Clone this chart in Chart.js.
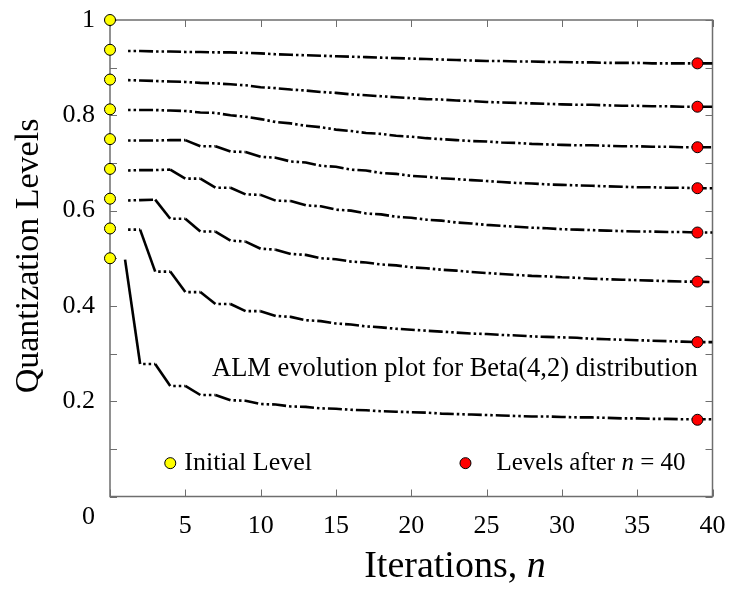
<!DOCTYPE html>
<html>
<head>
<meta charset="utf-8">
<title>ALM evolution plot</title>
<script src="https://cdn.jsdelivr.net/npm/chart.js@4.4.0/dist/chart.umd.min.js"></script>
<style>
  body { margin: 0; background: #fff; }
  #wrap { width: 730px; height: 590px; }
</style>
</head>
<body>
<div id="wrap"><canvas id="almChart" width="730" height="590"></canvas></div>
<script>
// Iterations on the x axis
const iterations = [1, 2, 3, 4, 5, 6, 7, 8, 9, 10, 11, 12, 13, 14, 15, 16, 17, 18, 19, 20,
  21, 22, 23, 24, 25, 26, 27, 28, 29, 30, 31, 32, 33, 34, 35, 36, 37, 38, 39, 40];

// Quantization level trajectories (top to bottom)
const level1 = [0.935, 0.935, 0.934, 0.934, 0.933, 0.933, 0.932, 0.932, 0.931, 0.930,
  0.928, 0.927, 0.926, 0.925, 0.924, 0.923, 0.922, 0.921, 0.920, 0.919,
  0.918, 0.917, 0.916, 0.915, 0.914, 0.914, 0.913, 0.913, 0.912, 0.912,
  0.911, 0.911, 0.910, 0.910, 0.910, 0.909, 0.909, 0.909, 0.909, 0.909];
const level2 = [0.874, 0.873, 0.872, 0.871, 0.870, 0.868, 0.867, 0.865, 0.863, 0.859,
  0.857, 0.854, 0.852, 0.849, 0.847, 0.844, 0.842, 0.840, 0.838, 0.836,
  0.834, 0.833, 0.831, 0.830, 0.828, 0.827, 0.826, 0.825, 0.824, 0.823,
  0.822, 0.822, 0.821, 0.820, 0.820, 0.819, 0.819, 0.818, 0.818, 0.818];
const level3 = [0.811, 0.811, 0.811, 0.810, 0.809, 0.806, 0.805, 0.800, 0.797, 0.792,
  0.786, 0.783, 0.778, 0.775, 0.770, 0.767, 0.763, 0.761, 0.757, 0.755,
  0.752, 0.750, 0.748, 0.746, 0.745, 0.743, 0.742, 0.740, 0.739, 0.738,
  0.737, 0.737, 0.736, 0.735, 0.735, 0.734, 0.734, 0.733, 0.733, 0.733];
const level4 = [0.747, 0.747, 0.747, 0.748, 0.748, 0.735, 0.735, 0.724, 0.723, 0.713,
  0.711, 0.703, 0.701, 0.694, 0.692, 0.686, 0.684, 0.679, 0.677, 0.673,
  0.671, 0.668, 0.666, 0.664, 0.662, 0.660, 0.658, 0.657, 0.655, 0.654,
  0.653, 0.652, 0.651, 0.650, 0.649, 0.649, 0.648, 0.648, 0.647, 0.647];
const level5 = [0.684, 0.685, 0.685, 0.686, 0.667, 0.667, 0.648, 0.648, 0.634, 0.633,
  0.621, 0.620, 0.611, 0.609, 0.602, 0.600, 0.594, 0.592, 0.587, 0.585,
  0.581, 0.579, 0.575, 0.573, 0.570, 0.568, 0.566, 0.564, 0.563, 0.561,
  0.560, 0.559, 0.558, 0.557, 0.556, 0.556, 0.555, 0.555, 0.554, 0.554];
const level6 = [0.621, 0.622, 0.623, 0.583, 0.583, 0.556, 0.556, 0.537, 0.535, 0.520,
  0.518, 0.509, 0.507, 0.500, 0.498, 0.493, 0.491, 0.487, 0.485, 0.481,
  0.479, 0.476, 0.474, 0.471, 0.469, 0.467, 0.465, 0.463, 0.462, 0.460,
  0.459, 0.457, 0.456, 0.455, 0.454, 0.453, 0.452, 0.451, 0.451, 0.450];
const level7 = [0.560, 0.560, 0.472, 0.472, 0.429, 0.429, 0.404, 0.404, 0.389, 0.389,
  0.379, 0.377, 0.370, 0.368, 0.363, 0.361, 0.357, 0.355, 0.352, 0.350,
  0.348, 0.346, 0.344, 0.342, 0.341, 0.339, 0.338, 0.336, 0.335, 0.334,
  0.333, 0.331, 0.330, 0.329, 0.328, 0.327, 0.326, 0.325, 0.324, 0.324];
const level8 = [0.497, 0.278, 0.278, 0.232, 0.232, 0.213, 0.213, 0.202, 0.201, 0.194,
  0.193, 0.189, 0.188, 0.185, 0.184, 0.182, 0.181, 0.179, 0.178, 0.177,
  0.176, 0.174, 0.173, 0.172, 0.171, 0.170, 0.169, 0.168, 0.168, 0.167,
  0.166, 0.166, 0.165, 0.164, 0.164, 0.163, 0.163, 0.162, 0.162, 0.162];

// Marker series
const initialIteration = 0;
const initialLevels = [1, 0.9375, 0.875, 0.8125, 0.75, 0.6875, 0.625, 0.5625, 0.5];
const finalIteration = 39;
const finalLevels = [0.909, 0.818, 0.733, 0.647, 0.554, 0.451, 0.324, 0.161];

const SERIF = '"Liberation Serif", "Times New Roman", serif';
const AXIS_GRAY = "#6e6e6e";
const YELLOW = "#ffff00";
const RED = "#ff0000";
const DASH_DOT_DOT = [14, 3, 2.5, 3, 2.5, 3];

const levelSeries = [level1, level2, level3, level4, level5, level6, level7, level8];

const isJump = c => Math.abs(c.p1.parsed.y - c.p0.parsed.y) > 0.009;

const lineDatasets = levelSeries.map((vals, i) => ({
  label: "Level " + (i + 1),
  data: iterations.map((n, k) => ({ x: n, y: vals[k] })),
  borderColor: "#000",
  borderWidth: 2.6,
  borderDash: DASH_DOT_DOT,
  // the big jumps look solid in the original, flat runs start on the dots
  segment: {
    borderDash: c => (isJump(c) ? [] : DASH_DOT_DOT),
    borderDashOffset: c => (isJump(c) ? 0 : 14)
  },
  pointRadius: 0,
  tension: 0,
  fill: false,
  order: 2
}));

const initialDataset = {
  label: "Initial Level",
  data: initialLevels.map(v => ({ x: initialIteration, y: v })),
  showLine: false,
  pointRadius: 5.5,
  pointBackgroundColor: YELLOW,
  pointBorderColor: "#000",
  pointBorderWidth: 1,
  clip: false,
  order: 0
};

const finalDataset = {
  label: "Levels after n = 40",
  data: finalLevels.map(v => ({ x: finalIteration, y: v })),
  showLine: false,
  pointRadius: 5.5,
  pointBackgroundColor: RED,
  pointBorderColor: "#000",
  pointBorderWidth: 1,
  clip: false,
  order: 0
};


// Box, inward ticks and all the extra texts
const framePlugin = {
  id: "frame",
  beforeDatasetsDraw(chart) {
    const { ctx, chartArea: a, scales: { x, y } } = chart;
    ctx.save();
    ctx.strokeStyle = AXIS_GRAY;
    ctx.lineWidth = 1.5;
    ctx.strokeRect(a.left, a.top, a.right - a.left, a.bottom - a.top);

    ctx.lineWidth = 1;
    ctx.beginPath();
    x.ticks.forEach(t => {
      const px = Math.round(x.getPixelForValue(t.value)) + 0.5;
      ctx.moveTo(px, a.bottom); ctx.lineTo(px, a.bottom - 7);
      ctx.moveTo(px, a.top); ctx.lineTo(px, a.top + 7);
    });
    y.ticks.forEach(t => {
      const py = Math.round(y.getPixelForValue(t.value)) + 0.5;
      ctx.moveTo(a.left, py); ctx.lineTo(a.left + 7, py);
      ctx.moveTo(a.right, py); ctx.lineTo(a.right - 7, py);
    });
    ctx.stroke();
    ctx.restore();
  },
  afterDraw(chart) {
    const { ctx, chartArea: a, scales: { x, y } } = chart;
    ctx.save();
    ctx.fillStyle = "#000";
    ctx.textBaseline = "middle";

    // lone "0" at the lower left corner
    ctx.font = "26px " + SERIF;
    ctx.textAlign = "right";
    ctx.fillText("0", a.left - 15, a.bottom + 21);

    // x axis title
    ctx.font = "38px " + SERIF;
    const part1 = "Iterations, ";
    const w1 = ctx.measureText(part1).width;
    ctx.font = "italic 38px " + SERIF;
    const w2 = ctx.measureText("n").width;
    let start = x.getPixelForValue(22.9) - (w1 + w2) / 2;
    ctx.textAlign = "left";
    ctx.font = "38px " + SERIF;
    ctx.fillText(part1, start, 567);
    ctx.font = "italic 38px " + SERIF;
    ctx.fillText("n", start + w1, 567);

    // y axis title
    ctx.save();
    ctx.translate(29, 256);
    ctx.rotate(-Math.PI / 2);
    ctx.textAlign = "center";
    ctx.font = "34px " + SERIF;
    ctx.fillText("Quantization Levels", 0, 0);
    ctx.restore();

    // annotation
    ctx.font = "26.5px " + SERIF;
    ctx.textAlign = "center";
    ctx.fillText("ALM evolution plot for Beta(4,2) distribution", x.getPixelForValue(22.9), y.getPixelForValue(0.268));

    // legend
    const legY = y.getPixelForValue(0.07);
    const drawMarker = (px, color) => {
      ctx.beginPath();
      ctx.arc(px, legY, 5.5, 0, Math.PI * 2);
      ctx.fillStyle = color;
      ctx.fill();
      ctx.lineWidth = 1;
      ctx.strokeStyle = "#000";
      ctx.stroke();
      ctx.fillStyle = "#000";
    };
    const m1 = x.getPixelForValue(4);
    drawMarker(m1, YELLOW);
    ctx.textAlign = "left";
    ctx.font = "26px " + SERIF;
    ctx.fillText("Initial Level", m1 + 14, legY);

    const m2 = x.getPixelForValue(23.6);
    drawMarker(m2, RED);
    let tx = m2 + 31;
    ctx.font = "25px " + SERIF;
    ctx.fillText("Levels after ", tx, legY);
    tx += ctx.measureText("Levels after ").width;
    ctx.font = "italic 25px " + SERIF;
    ctx.fillText("n", tx, legY);
    tx += ctx.measureText("n").width;
    ctx.font = "25px " + SERIF;
    ctx.fillText(" = 40", tx, legY);

    ctx.restore();
  }
};


const ctx = document.getElementById("almChart").getContext("2d");

new Chart(ctx, {
  type: "line",
  data: {
    datasets: [initialDataset, finalDataset, ...lineDatasets]
  },
  options: {
    responsive: false,
    animation: false,
    layout: { padding: { top: 20, right: 17.5, left: 0, bottom: 0 } },
    plugins: {
      legend: { display: false },
      tooltip: { enabled: false }
    },
    scales: {
      x: {
        type: "linear",
        min: 0,
        max: 40,
        grid: { display: false, drawTicks: false },
        border: { display: false },
        ticks: {
          stepSize: 5,
          autoSkip: false,
          maxRotation: 0,
          padding: 14,
          color: "#000",
          font: { family: SERIF, size: 26 },
          callback: v => (v === 0 ? "" : String(v))
        },
        afterFit: scale => {
          scale.height = 93.5;
          scale.paddingLeft = 0;
          scale.paddingRight = 0;
        }
      },
      y: {
        type: "linear",
        min: 0,
        max: 1,
        grid: { display: false, drawTicks: false },
        border: { display: false },
        ticks: {
          stepSize: 0.1,
          autoSkip: false,
          padding: 15,
          color: "#000",
          font: { family: SERIF, size: 26 },
          callback: v => {
            const tenth = Math.round(v * 10);
            if (tenth === 0 || tenth % 2 !== 0) return "";
            return tenth === 10 ? "1" : (tenth / 10).toFixed(1);
          }
        },
        afterFit: scale => {
          scale.width = 110;
          scale.paddingTop = 0;
          scale.paddingBottom = 0;
        }
      }
    }
  },
  plugins: [framePlugin]
});
</script>
</body>
</html>
